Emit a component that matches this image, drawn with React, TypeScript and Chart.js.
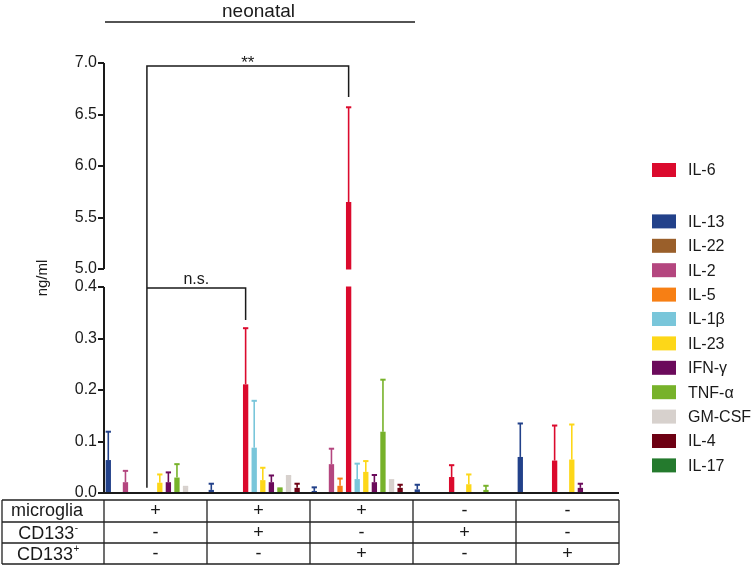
import React, { useEffect, useRef } from 'react';
import { Chart, registerables, LinearScale } from 'chart.js';

Chart.register(...registerables);

const FONT = '"Liberation Sans", Arial, Helvetica, sans-serif';
const INK = '#1a1a1a';

// ---- categories / table ----
const groups = ['microglia', 'microglia + CD133-', 'microglia + CD133+', 'CD133-', 'CD133+'];
const microgliaRow = ['+', '+', '+', '-', '-'];
const cd133NegRow = ['-', '+', '-', '+', '-'];
const cd133PosRow = ['-', '-', '+', '-', '+'];

// ---- broken y axis ----
const yTicks = [0, 0.1, 0.2, 0.3, 0.4, 5.0, 5.5, 6.0, 6.5, 7.0];
const lowMax = 0.4;
const highMin = 5.0;
const highMax = 7.0;

// ---- series (ng/ml): mean and SD per group ----
const cytokines = ['IL-13', 'IL-22', 'IL-2', 'IL-5', 'IL-6', 'IL-1β', 'IL-23', 'IFN-γ', 'TNF-α', 'GM-CSF', 'IL-4', 'IL-17'];
const colors = ['#22418A', '#9A5F2A', '#B4467F', '#F77F14', '#DB0A2D', '#79C6DA', '#FDD718', '#6B0A5B', '#77B22A', '#D7D1CD', '#6D0013', '#247A2D'];

const il13 = [0.064, 0.006, 0.004, 0.007, 0.070];
const il13Sd = [0.055, 0.012, 0.007, 0.009, 0.065];
const il22 = [null, null, null, null, null];
const il22Sd = [null, null, null, null, null];
const il2 = [0.021, null, 0.056, null, null];
const il2Sd = [0.022, null, 0.030, null, null];
const il5 = [null, null, 0.014, null, null];
const il5Sd = [null, null, 0.014, null, null];
const il6 = [null, 0.211, 5.65, 0.031, 0.063];
const il6Sd = [null, 0.109, 0.92, 0.023, 0.068];
const il1b = [null, 0.088, 0.027, null, null];
const il1bSd = [null, 0.091, 0.030, null, null];
const il23 = [0.020, 0.025, 0.041, 0.017, 0.065];
const il23Sd = [0.016, 0.024, 0.021, 0.019, 0.068];
const ifng = [0.021, 0.021, 0.021, null, 0.010];
const ifngSd = [0.019, 0.013, 0.014, null, 0.008];
const tnfa = [0.030, 0.008, 0.119, 0.006, null];
const tnfaSd = [0.026, 0.001, 0.101, 0.008, null];
const gmcsf = [0.011, 0.032, 0.024, null, null];
const gmcsfSd = [0.001, 0.001, 0.001, null, null];
const il4 = [null, 0.010, 0.010, null, null];
const il4Sd = [null, 0.008, 0.006, null, null];
const il17 = [null, null, null, null, null];
const il17Sd = [null, null, null, null, null];

const means = [il13, il22, il2, il5, il6, il1b, il23, ifng, tnfa, gmcsf, il4, il17];
const sds = [il13Sd, il22Sd, il2Sd, il5Sd, il6Sd, il1bSd, il23Sd, ifngSd, tnfaSd, gmcsfSd, il4Sd, il17Sd];

const legendOrder = ['IL-6', null, 'IL-13', 'IL-22', 'IL-2', 'IL-5', 'IL-1β', 'IL-23', 'IFN-γ', 'TNF-α', 'GM-CSF', 'IL-4', 'IL-17'];

// ---- custom broken linear scale ----
const LOW_FRAC = 206 / 430;
const HIGH_FRAC = 206 / 430;

class BrokenScale extends LinearScale {
  static id = 'broken';
  static defaults = { ...(LinearScale as any).defaults };

  determineDataLimits() {
    (this as any).min = 0;
    (this as any).max = highMax;
  }
  buildTicks() {
    return yTicks.map((v) => ({ value: v }));
  }
  getPixelForValue(value: any) {
    if (value === null || value === undefined || isNaN(value)) return NaN;
    const s: any = this;
    const H = s.bottom - s.top;
    const lowH = H * LOW_FRAC;
    const highH = H * HIGH_FRAC;
    const lowTop = s.bottom - lowH;
    const highBottom = s.top + highH;
    if (value <= lowMax) return s.bottom - (value / lowMax) * lowH;
    if (value >= highMin) return s.top + ((highMax - value) / (highMax - highMin)) * highH;
    const t = (value - lowMax) / (highMin - lowMax);
    return lowTop + (highBottom - lowTop) * t;
  }
  getValueForPixel(pixel: number) {
    const s: any = this;
    const H = s.bottom - s.top;
    const lowH = H * LOW_FRAC;
    const highH = H * HIGH_FRAC;
    const lowTop = s.bottom - lowH;
    const highBottom = s.top + highH;
    if (pixel >= lowTop) return ((s.bottom - pixel) / lowH) * lowMax;
    if (pixel <= highBottom) return highMax - ((pixel - s.top) / highH) * (highMax - highMin);
    return lowMax + ((lowTop - pixel) / (lowTop - highBottom)) * (highMin - lowMax);
  }
}
Chart.register(BrokenScale as any);

const decorPlugin = {
  id: 'decor',
  afterDatasetsDraw(chart: any) {
    const ctx = chart.ctx;
    const y = chart.scales.y;
    const area = chart.chartArea;
    const gTop = y.getPixelForValue(highMin);
    const gBot = y.getPixelForValue(lowMax);
    ctx.save();
    // break gap
    ctx.fillStyle = '#ffffff';
    ctx.fillRect(area.left + 1, gTop + 0.5, area.right - area.left, gBot - gTop - 1);
    // error bars (upper only)
    chart.data.datasets.forEach((ds: any, di: number) => {
      const meta = chart.getDatasetMeta(di);
      ds.data.forEach((v: any, i: number) => {
        const sd = ds.sd[i];
        if (v == null || sd == null) return;
        const bar = meta.data[i];
        const yTop = y.getPixelForValue(v + sd);
        ctx.strokeStyle = ds.backgroundColor;
        ctx.lineWidth = 1.6;
        ctx.beginPath();
        ctx.moveTo(bar.x, bar.y);
        ctx.lineTo(bar.x, yTop);
        ctx.stroke();
        ctx.lineWidth = 2;
        ctx.beginPath();
        ctx.moveTo(bar.x - bar.width / 2, yTop);
        ctx.lineTo(bar.x + bar.width / 2, yTop);
        ctx.stroke();
      });
    });
    ctx.restore();
  },
  afterDraw(chart: any) {
    const ctx = chart.ctx;
    const y = chart.scales.y;
    const x = chart.scales.x;
    const area = chart.chartArea;
    const gTop = y.getPixelForValue(highMin);
    const gBot = y.getPixelForValue(lowMax);
    const y0 = y.getPixelForValue(0);
    ctx.save();
    ctx.strokeStyle = INK;
    ctx.lineWidth = 2;
    // y axis (broken)
    ctx.beginPath();
    ctx.moveTo(area.left, area.top);
    ctx.lineTo(area.left, gTop);
    ctx.moveTo(area.left, gBot);
    ctx.lineTo(area.left, y0);
    ctx.stroke();
    // baseline
    ctx.beginPath();
    ctx.moveTo(area.left - 1, y0);
    ctx.lineTo(area.right, y0);
    ctx.stroke();

    // y title
    ctx.fillStyle = INK;
    ctx.font = `15px ${FONT}`;
    ctx.textAlign = 'center';
    ctx.textBaseline = 'middle';
    ctx.save();
    ctx.translate(43, (gTop + gBot) / 2);
    ctx.rotate(-Math.PI / 2);
    ctx.fillText('ng/ml', 0, 0);
    ctx.restore();

    // group geometry
    const w = (x.right - x.left) / groups.length;
    const slot = w / cytokines.length;
    const il6Idx = cytokines.indexOf('IL-6');
    const gl = (g: number) => x.getPixelForValue(g) - w / 2;

    // title "neonatal"
    ctx.font = `19px ${FONT}`;
    ctx.textBaseline = 'alphabetic';
    ctx.fillText('neonatal', (gl(0) + gl(3)) / 2, 17);
    ctx.lineWidth = 1.5;
    ctx.beginPath();
    ctx.moveTo(gl(0) + 1, 22);
    ctx.lineTo(gl(3) + 2, 22);
    ctx.stroke();

    // significance brackets
    const xLeft = gl(0) + slot * (il6Idx + 1);
    const xNs = gl(1) + slot * (il6Idx + 0.5);
    const xSig = gl(2) + slot * (il6Idx + 0.5);
    const ySig = y.getPixelForValue(6.97);
    const yNs = y.getPixelForValue(0.398);
    ctx.lineWidth = 1.5;
    ctx.beginPath();
    ctx.moveTo(xLeft, y.getPixelForValue(0.01));
    ctx.lineTo(xLeft, ySig);
    ctx.lineTo(xSig, ySig);
    ctx.lineTo(xSig, y.getPixelForValue(6.67));
    ctx.moveTo(xLeft, yNs);
    ctx.lineTo(xNs, yNs);
    ctx.lineTo(xNs, y.getPixelForValue(0.336));
    ctx.stroke();
    ctx.font = `17px ${FONT}`;
    ctx.fillText('**', (xLeft + xSig) / 2, ySig + 2);
    ctx.font = `16px ${FONT}`;
    ctx.fillText('n.s.', (xLeft + xNs) / 2, yNs - 4);

    // legend
    ctx.font = `16px ${FONT}`;
    ctx.textAlign = 'left';
    ctx.textBaseline = 'middle';
    let ly = 170;
    legendOrder.forEach((name) => {
      if (name === null) { ly += 27; return; }
      const idx = cytokines.indexOf(name);
      ctx.fillStyle = colors[idx];
      ctx.fillRect(652, ly - 7, 24, 14);
      ctx.fillStyle = INK;
      ctx.fillText(name, 688, ly + 1);
      ly += 24.4;
    });

    // table
    const rowsY = [500, 522, 543, 564];
    const tLeft = 2;
    const tRight = gl(groups.length);
    ctx.strokeStyle = '#222';
    ctx.lineWidth = 1.3;
    ctx.beginPath();
    rowsY.forEach((ry) => { ctx.moveTo(tLeft, ry); ctx.lineTo(tRight, ry); });
    ctx.moveTo(tLeft, rowsY[0]); ctx.lineTo(tLeft, rowsY[3]);
    for (let g = 0; g <= groups.length; g++) {
      const gx = gl(g);
      ctx.moveTo(gx, rowsY[0]); ctx.lineTo(gx, rowsY[3]);
    }
    ctx.stroke();

    ctx.fillStyle = INK;
    ctx.font = `18px ${FONT}`;
    ctx.textBaseline = 'alphabetic';
    ctx.textAlign = 'center';
    const labelX = 47;
    ctx.fillText('microglia', labelX, 516);
    const drawSup = (base: string, sup: string, cx: number, by: number) => {
      ctx.font = `18px ${FONT}`;
      const bw = ctx.measureText(base).width;
      ctx.font = `10px ${FONT}`;
      const sw = ctx.measureText(sup).width;
      const start = cx - (bw + sw) / 2;
      ctx.textAlign = 'left';
      ctx.font = `18px ${FONT}`;
      ctx.fillText(base, start, by);
      ctx.font = `10px ${FONT}`;
      ctx.fillText(sup, start + bw + 0.5, by - 8);
      ctx.textAlign = 'center';
    };
    drawSup('CD133', '-', labelX + 1, 539);
    drawSup('CD133', '+', labelX + 1, 560);
    ctx.font = `18px ${FONT}`;
    const rows = [microgliaRow, cd133NegRow, cd133PosRow];
    const rowBase = [516, 538, 559];
    rows.forEach((row, r) => {
      row.forEach((sym, g) => {
        ctx.fillText(sym, x.getPixelForValue(g), rowBase[r]);
      });
    });
    ctx.restore();
  },
};

export default function App() {
  const ref = useRef<HTMLCanvasElement | null>(null);
  useEffect(() => {
    if (!ref.current) return;
    const chart = new Chart(ref.current, {
      type: 'bar',
      data: {
        labels: groups,
        datasets: cytokines.map((name, k) => ({
          label: name,
          data: means[k] as any,
          sd: sds[k],
          backgroundColor: colors[k],
          borderWidth: 0,
          categoryPercentage: 1.0,
          barPercentage: 0.62,
        })) as any,
      },
      options: {
        animation: false,
        responsive: false,
        events: [],
        layout: { padding: { left: 0, right: 136, top: 63, bottom: 73 } },
        plugins: { legend: { display: false }, tooltip: { enabled: false }, title: { display: false } },
        scales: {
          x: { display: false, offset: true, grid: { display: false } },
          y: {
            type: 'broken' as any,
            afterFit: (s: any) => { s.width = 104; },
            border: { display: false },
            grid: { display: true, drawOnChartArea: false, drawTicks: true, tickLength: 6, color: INK, lineWidth: 2 },
            ticks: {
              autoSkip: false,
              padding: 1,
              color: INK,
              font: { family: FONT, size: 16 },
              callback: (v: any) => Number(v).toFixed(1),
            },
          },
        },
      } as any,
      plugins: [decorPlugin],
    });
    return () => chart.destroy();
  }, []);
  return (
    <div style={{ position: 'absolute', left: 0, top: 0, width: 755, height: 566, background: '#fff' }}>
      <canvas ref={ref} width={755} height={566} style={{ width: 755, height: 566, display: 'block' }} />
    </div>
  );
}
